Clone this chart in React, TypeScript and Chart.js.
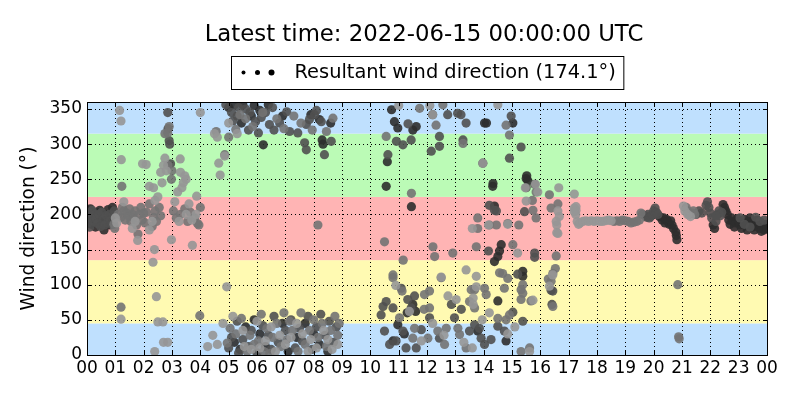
import { useEffect, useRef } from "react";
import { Chart, registerables } from "chart.js";

Chart.register(...registerables);

const chartTitle = "Latest time: 2022-06-15 00:00:00 UTC";
const legendLabel = "Resultant wind direction (174.1°)";
const yAxisTitle = "Wind direction (°)";

const hourTicks = [0, 1, 2, 3, 4, 5, 6, 7, 8, 9, 10, 11, 12, 13, 14, 15, 16, 17, 18, 19, 20, 21, 22, 23, 24];
const hourLabels = ["00", "01", "02", "03", "04", "05", "06", "07", "08", "09", "10", "11", "12", "13", "14", "15", "16", "17", "18", "19", "20", "21", "22", "23", "00"];
const dirTicks = [0, 50, 100, 150, 200, 250, 300, 350];

// direction sectors (degrees) and their fill colours
const bandEdges = [0, 45, 135, 225, 315, 360];
const bandColors = ["#bfe0fe", "#fffab2", "#ffb4b4", "#bbfbb6", "#bfe0fe"];

// [hour, direction] – darkest markers
const darkPoints: [number, number][] = [
  [0.02, 205], [0.05, 198], [0.08, 190], [0.12, 208], [0.15, 186], [0.2, 200], [0.25, 195], [0.3, 182], [0.35, 203], [0.4, 192],
  [0.45, 206], [0.5, 188], [0.55, 198], [0.6, 178], [0.65, 200], [0.7, 192], [0.75, 207], [0.8, 185], [0.85, 196], [0.9, 210],
  [5.0, 352], [5.2, 356], [5.5, 356], [5.45, 330], [5.8, 340], [5.9, 355], [6.1, 348], [6.22, 299], [6.4, 356], [6.9, 340],
  [7.9, 342], [8.3, 306], [8.33, 300], [8.2, 335], [8.6, 330],
  [5.2, 18], [5.4, 8], [5.6, 40], [5.9, 50], [6.1, 30], [6.3, 12], [6.9, 45], [7.1, 5], [7.4, 25], [7.7, 45], [8.0, 30], [8.2, 15], [8.5, 5],
  [10.75, 349], [10.85, 332], [10.97, 323], [11.5, 320], [11.62, 325], [10.6, 275], [10.56, 240], [11.45, 211], [10.97, 43], [11.3, 60],
  [11.5, 72], [11.2, 30], [10.8, 20], [11.6, 62],
  [14.03, 330], [14.1, 330], [14.32, 240], [14.33, 244], [14.38, 212], [14.62, 157], [14.56, 148], [14.5, 140], [14.38, 133], [14.5, 77],
  [14.79, 20], [15.38, 119], [15.38, 112], [15.5, 251], [15.52, 255], [15.56, 248], [13.79, 34], [15.03, 330],
  [20.2, 197], [20.3, 192], [20.35, 195], [20.4, 188], [20.45, 193], [20.5, 190], [20.55, 186], [20.6, 191], [20.65, 185], [20.7, 180],
  [20.78, 175], [20.8, 170], [20.82, 164], [22.45, 214], [22.5, 210], [22.55, 205], [22.6, 200], [22.65, 192], [22.7, 186], [22.75, 195],
  [22.8, 190], [22.85, 182], [22.9, 188], [22.95, 194], [23.0, 190], [23.05, 185], [23.1, 180], [23.15, 188], [23.2, 193], [23.25, 185],
  [23.3, 178], [23.35, 190], [23.4, 195], [23.45, 188], [23.5, 182], [23.55, 178], [23.6, 185], [23.65, 192], [23.7, 187], [23.75, 180],
  [23.8, 176], [23.85, 183], [23.9, 178], [23.95, 186], [24.0, 180], [22.1, 185], [22.15, 180],
];

// [hour, direction] – dark grey markers
const dimPoints: [number, number][] = [
  [0.0, 195], [0.03, 188], [0.07, 202], [0.1, 182], [0.13, 196], [0.18, 206], [0.22, 190], [0.27, 200], [0.32, 194], [0.37, 187],
  [0.42, 200], [0.48, 183], [0.52, 203], [0.58, 193], [0.62, 185], [0.68, 198], [0.72, 188], [0.78, 200], [0.82, 192], [0.88, 186],
  [0.93, 199], [0.96, 205],
  [2.85, 345], [2.86, 322], [2.9, 305], [2.92, 300], [2.95, 272],
  [4.9, 356], [5.1, 345], [5.3, 340], [5.6, 350], [5.7, 320], [5.95, 332], [6.05, 316], [6.3, 345], [6.44, 328], [6.6, 320],
  [6.8, 330], [7.15, 318], [7.44, 316], [7.74, 328], [7.85, 335], [8.03, 342], [7.68, 302], [7.74, 292], [8.38, 285], [8.62, 304],
  [8.27, 332], [8.1, 348], [5.15, 333], [5.35, 352], [5.75, 345], [6.15, 338], [6.55, 352], [7.05, 346],
  [5.0, 10], [5.1, 25], [5.3, 48], [5.5, 22], [5.7, 12], [5.8, 35], [6.0, 3], [6.2, 42], [6.4, 28], [6.6, 55], [6.75, 18], [7.0, 35],
  [7.2, 50], [7.35, 10], [7.5, 38], [7.6, 20], [7.8, 55], [7.95, 8], [8.1, 40], [8.25, 58], [8.4, 28], [8.55, 48], [8.7, 18], [8.8, 40],
  [6.5, 8], [5.35, 3],
  [10.45, 69], [10.5, 34], [10.56, 76], [10.38, 57], [10.8, 67], [10.91, 20], [11.09, 95], [11.15, 34], [11.26, 10], [11.44, 67],
  [11.56, 84], [11.32, 79], [11.8, 36], [12.09, 53], [12.44, 24], [11.62, 10], [10.68, 15], [10.62, 285], [10.92, 304], [11.15, 299],
  [11.44, 306], [11.33, 329], [12.2, 342], [12.44, 311], [12.44, 297], [12.15, 290], [13.2, 342], [13.27, 306], [13.38, 330], [13.5, 34],
  [13.68, 43], [13.85, 38], [13.91, 24], [14.03, 15], [14.2, 213], [14.45, 205], [14.38, 206], [14.17, 148], [15.2, 115],
  [15.44, 204], [15.5, 238], [15.8, 243], [15.8, 145], [15.8, 139], [16.44, 91], [16.41, 72], [16.38, 92], [15.32, 296], [14.97, 340],
  [14.91, 280], [13.97, 273], [12.73, 342], [13.08, 344], [12.86, 72], [13.21, 65], [12.97, 53], [14.26, 22], [14.5, 41], [14.73, 34],
  [15.03, 61], [15.38, 48],
  [19.6, 200], [19.7, 198], [19.75, 196], [19.8, 200], [19.85, 195], [19.9, 197], [19.95, 200], [20.0, 205], [20.05, 209], [20.1, 203],
  [20.15, 200], [21.85, 213], [21.9, 218], [21.95, 210], [22.0, 202], [22.05, 195], [22.2, 190], [22.25, 200], [22.3, 205], [22.35, 198],
  [22.4, 203], [23.05, 195], [23.2, 186], [23.4, 182], [23.6, 196], [23.75, 190], [23.9, 192], [22.2, 198], [21.5, 200], [21.6, 205],
  [21.7, 202],
];

// [hour, direction] – mid grey markers
const midPoints: [number, number][] = [
  [0.95, 186], [0.98, 180],
  [1.1, 200], [1.2, 196], [1.25, 210], [1.3, 205], [1.35, 192], [1.4, 202], [1.45, 198], [1.5, 208], [1.55, 190], [1.6, 200],
  [1.65, 195], [1.7, 205], [1.75, 185], [1.8, 172], [1.85, 200], [1.9, 210], [1.95, 192], [2.0, 202], [1.2, 68], [1.23, 240], [2.05, 188],
  [2.1, 203], [2.2, 215], [2.3, 183], [2.35, 196], [2.4, 205], [2.45, 190], [2.55, 210], [2.6, 198], [2.9, 325], [2.85, 316],
  [2.75, 315], [3.0, 262], [2.98, 250], [2.85, 270],
  [3.05, 205], [3.15, 195], [3.3, 200], [3.45, 208], [3.55, 190], [3.65, 203], [3.8, 195], [3.9, 187], [4.0, 210], [3.95, 185], [3.98, 56],
  [4.56, 318], [4.86, 285], [5.0, 310], [5.25, 321], [5.4, 342], [5.6, 336], [5.85, 325], [6.2, 345], [6.7, 336], [6.95, 322],
  [7.3, 340], [7.55, 330], [7.95, 320], [8.15, 185], [8.45, 318], [8.68, 337],
  [4.95, 17], [5.05, 38], [5.25, 30], [5.45, 52], [5.65, 5], [5.75, 28], [5.9, 15], [6.05, 20], [6.15, 58], [6.35, 38], [6.45, 2],
  [6.55, 25], [6.7, 45], [6.85, 12], [6.95, 60], [7.05, 22], [7.25, 35], [7.45, 5], [7.55, 60], [7.7, 15], [7.85, 35], [8.0, 50],
  [8.15, 25], [8.3, 45], [8.45, 12], [8.6, 35], [8.75, 55], [8.85, 28], [8.9, 45], [7.15, 48], [6.25, 5],
  [10.5, 161], [11.16, 135], [10.8, 114], [10.8, 110], [11.12, 91], [11.91, 86], [12.09, 91], [12.09, 67], [11.9, 65], [11.03, 53],
  [11.5, 24], [11.56, 38], [12.03, 24], [12.38, 34], [12.68, 38], [13.09, 38], [13.15, 29], [13.38, 10], [12.62, 15], [12.5, 110],
  [12.21, 154], [12.27, 140], [12.91, 145], [13.56, 93], [13.68, 93], [13.68, 67], [13.5, 76], [14.09, 86], [14.03, 95], [14.73, 95],
  [14.56, 117], [14.67, 116], [14.85, 109], [13.74, 154], [13.79, 195], [13.79, 180], [14.2, 185], [14.45, 185], [14.85, 187],
  [15.03, 157], [14.91, 313], [14.79, 327], [12.32, 327], [12.56, 356], [13.27, 301], [11.74, 351], [11.45, 230], [10.56, 311],
  [15.24, 185], [15.72, 220], [15.85, 232], [15.85, 195], [15.74, 206], [16.32, 228], [16.62, 215], [16.38, 209], [16.56, 141],
  [16.53, 123], [16.44, 116], [16.38, 105], [16.28, 108], [15.32, 93], [15.32, 79], [15.38, 100], [15.38, 88], [15.67, 77], [14.91, 57],
  [14.79, 50], [15.62, 10], [15.32, 5], [14.5, 52], [16.44, 69], [20.85, 100], [20.88, 26], [20.9, 23],
  [18.6, 190], [18.7, 191], [18.8, 190], [18.9, 192], [19.0, 191], [19.1, 190], [19.2, 188], [19.3, 189], [19.4, 190], [19.5, 192],
  [19.55, 202], [21.15, 210], [21.2, 205], [21.25, 200], [21.35, 202], [21.4, 205], [21.45, 200],
];

// [hour, direction] – light grey markers
const lightPoints: [number, number][] = [
  [1.15, 348], [1.2, 333], [1.21, 278], [1.2, 51], [1.0, 195], [1.05, 188], [1.3, 218], [1.79, 163], [1.96, 272], [2.09, 271],
  [2.2, 240], [2.35, 238], [2.38, 150], [2.33, 132], [2.45, 83], [2.5, 47], [2.68, 47], [2.7, 18], [2.85, 18], [2.39, 5], [2.6, 260],
  [2.7, 270], [2.75, 280], [2.8, 262], [2.65, 245], [2.5, 225], [2.4, 220], [2.2, 178], [2.3, 190], [1.6, 180], [1.7, 190], [3.29, 279],
  [3.3, 260], [3.4, 245], [3.45, 255], [3.35, 238], [3.5, 250], [3.2, 232], [3.1, 218], [3.72, 156], [2.98, 164], [3.87, 226],
  [4.0, 345], [3.6, 215], [3.7, 192], [3.85, 200], [3.25, 190], [3.5, 200], [4.44, 28], [4.26, 12], [4.6, 15], [4.93, 97], [4.7, 256],
  [4.65, 273], [4.86, 283], [4.5, 315], [4.6, 310], [5.0, 330], [5.3, 315],
  [4.8, 45], [5.15, 55], [5.5, 35], [5.8, 8], [6.0, 48], [6.3, 20], [6.5, 40], [6.65, 5], [6.8, 28], [7.0, 15], [7.2, 25], [7.4, 45],
  [7.6, 30], [7.8, 5], [7.9, 22], [8.1, 10], [8.35, 35], [8.5, 22], [8.65, 8], [8.85, 15], [6.1, 10], [5.55, 12],
  [10.9, 99], [11.38, 62], [12.5, 111], [12.74, 84], [13.03, 79], [13.38, 121], [12.2, 45], [11.8, 20], [12.6, 28], [13.3, 18],
  [13.6, 10], [13.95, 50], [14.2, 60], [14.85, 30], [15.1, 40], [13.63, 81], [13.63, 72], [13.74, 112], [13.74, 97], [13.6, 180],
  [14.17, 185], [14.85, 186], [15.2, 145], [13.97, 273], [12.2, 342], [11.0, 355], [12.1, 355], [14.5, 356], [15.62, 5], [15.74, 78],
  [16.65, 238], [17.2, 229], [17.2, 209], [17.26, 206], [17.26, 211], [16.62, 205], [16.58, 185], [16.58, 174], [16.67, 197],
  [16.56, 190], [16.62, 173], [15.83, 243], [15.91, 232], [15.47, 238], [15.5, 219], [16.32, 98], [16.44, 114],
  [17.3, 190], [17.35, 186], [17.4, 188], [17.5, 190], [17.6, 191], [17.7, 190], [17.8, 191], [17.9, 190], [18.0, 191], [18.1, 190],
  [18.2, 190], [18.3, 191], [18.4, 192], [18.5, 191], [17.25, 200], [17.2, 204],
  [21.05, 212], [21.1, 205], [21.2, 200], [21.3, 197],
];

const FONT = "DejaVu Sans";

const framePlugin = {
  id: "windFrame",
  beforeDatasetsDraw(chart: any) {
    const { ctx, chartArea: a, scales } = chart;
    const x = scales.x;
    const y = scales.y;
    ctx.save();
    for (let i = 0; i < bandColors.length; i++) {
      const y0 = y.getPixelForValue(bandEdges[i]);
      const y1 = y.getPixelForValue(bandEdges[i + 1]);
      ctx.fillStyle = bandColors[i];
      ctx.fillRect(a.left, y1, a.right - a.left, y0 - y1);
    }
    ctx.strokeStyle = "#000";
    ctx.lineWidth = 1;
    ctx.setLineDash([1, 3]);
    for (const v of hourTicks) {
      const px = Math.round(x.getPixelForValue(v)) + 0.5;
      ctx.beginPath();
      ctx.moveTo(px, a.top);
      ctx.lineTo(px, a.bottom);
      ctx.stroke();
    }
    for (const v of dirTicks) {
      const py = Math.round(y.getPixelForValue(v)) + 0.5;
      ctx.beginPath();
      ctx.moveTo(a.left, py);
      ctx.lineTo(a.right, py);
      ctx.stroke();
    }
    ctx.restore();
  },
  afterDatasetsDraw(chart: any) {
    const { ctx, chartArea: a, scales } = chart;
    const x = scales.x;
    const y = scales.y;
    ctx.save();
    ctx.strokeStyle = "#000";
    ctx.lineWidth = 1;
    ctx.setLineDash([]);
    const tl = 4;
    for (const v of hourTicks) {
      const px = Math.round(x.getPixelForValue(v)) + 0.5;
      ctx.beginPath();
      ctx.moveTo(px, a.bottom);
      ctx.lineTo(px, a.bottom - tl);
      ctx.moveTo(px, a.top);
      ctx.lineTo(px, a.top + tl);
      ctx.stroke();
    }
    for (const v of dirTicks) {
      const py = Math.round(y.getPixelForValue(v)) + 0.5;
      ctx.beginPath();
      ctx.moveTo(a.left, py);
      ctx.lineTo(a.left + tl, py);
      ctx.moveTo(a.right, py);
      ctx.lineTo(a.right - tl, py);
      ctx.stroke();
    }
    ctx.strokeRect(Math.round(a.left) + 0.5, Math.round(a.top) + 0.5, Math.round(a.right - a.left), Math.round(a.bottom - a.top));

    // title
    ctx.fillStyle = "#000";
    ctx.font = `22.8px "${FONT}"`;
    ctx.textAlign = "center";
    ctx.textBaseline = "middle";
    const cx = (a.left + a.right) / 2;
    ctx.fillText(chartTitle, cx - 3, 35);

    // legend box
    ctx.font = `19.4px "${FONT}"`;
    const textW = ctx.measureText(legendLabel).width;
    const boxW = 63 + textW + 8;
    const bx = Math.round(cx - boxW / 2) + 0.5;
    const by = 56.5;
    ctx.fillStyle = "#fff";
    ctx.fillRect(bx, by, boxW, 33);
    ctx.strokeRect(bx, by, boxW, 33);
    ctx.fillStyle = "#000";
    const dotR = [2, 2.5, 3];
    dotR.forEach((r, i) => {
      ctx.beginPath();
      ctx.arc(bx + 12 + i * 14, by + 16, r, 0, Math.PI * 2);
      ctx.fill();
    });
    ctx.textAlign = "left";
    ctx.fillText(legendLabel, bx + 63, by + 16.5);
    ctx.restore();
  },
};

function makeDataset(points: [number, number][], color: string) {
  return {
    label: legendLabel,
    data: points.map(([h, d]) => ({ x: h, y: d })),
    backgroundColor: color,
    borderWidth: 0,
    pointRadius: 4.6,
    pointHoverRadius: 4.6,
  };
}

export default function App() {
  const ref = useRef<HTMLCanvasElement | null>(null);
  useEffect(() => {
    if (!ref.current) return;
    const chart = new Chart(ref.current, {
      type: "scatter",
      data: {
        datasets: [
          makeDataset(lightPoints, "rgba(150,150,150,0.9)"),
          makeDataset(midPoints, "rgba(115,115,115,0.9)"),
          makeDataset(dimPoints, "rgba(80,80,80,0.9)"),
          makeDataset(darkPoints, "rgba(45,45,45,0.9)"),
        ],
      },
      options: {
        responsive: false,
        animation: false,
        events: [],
        layout: { padding: { top: 102, right: 33, left: 0, bottom: 0 } },
        plugins: { legend: { display: false }, title: { display: false }, tooltip: { enabled: false } },
        scales: {
          x: {
            type: "linear",
            min: 0,
            max: 24,
            grid: { display: false, drawTicks: false },
            border: { display: false },
            afterBuildTicks: (s: any) => {
              s.ticks = hourTicks.map((v) => ({ value: v }));
            },
            afterFit: (s: any) => {
              s.height = 45;
            },
            ticks: {
              autoSkip: false,
              maxRotation: 0,
              padding: 3,
              color: "#000",
              font: { family: FONT, size: 17 },
              callback: (_v: any, i: number) => hourLabels[i],
            },
          },
          y: {
            type: "linear",
            min: 0,
            max: 360,
            grid: { display: false, drawTicks: false },
            border: { display: false },
            afterBuildTicks: (s: any) => {
              s.ticks = dirTicks.map((v) => ({ value: v }));
            },
            afterFit: (s: any) => {
              s.width = 87;
            },
            title: {
              display: true,
              text: yAxisTitle,
              color: "#000",
              font: { family: FONT, size: 18.6 },
              padding: { top: 18, bottom: 0 },
            },
            ticks: {
              padding: 5,
              color: "#000",
              font: { family: FONT, size: 17 },
              callback: (v: any) => String(v),
            },
          },
        },
      },
      plugins: [framePlugin],
    });
    return () => chart.destroy();
  }, []);
  return (
    <div style={{ position: "absolute", left: 0, top: 0, width: 800, height: 400, background: "#fff" }}>
      <canvas ref={ref} width={800} height={400} />
    </div>
  );
}
